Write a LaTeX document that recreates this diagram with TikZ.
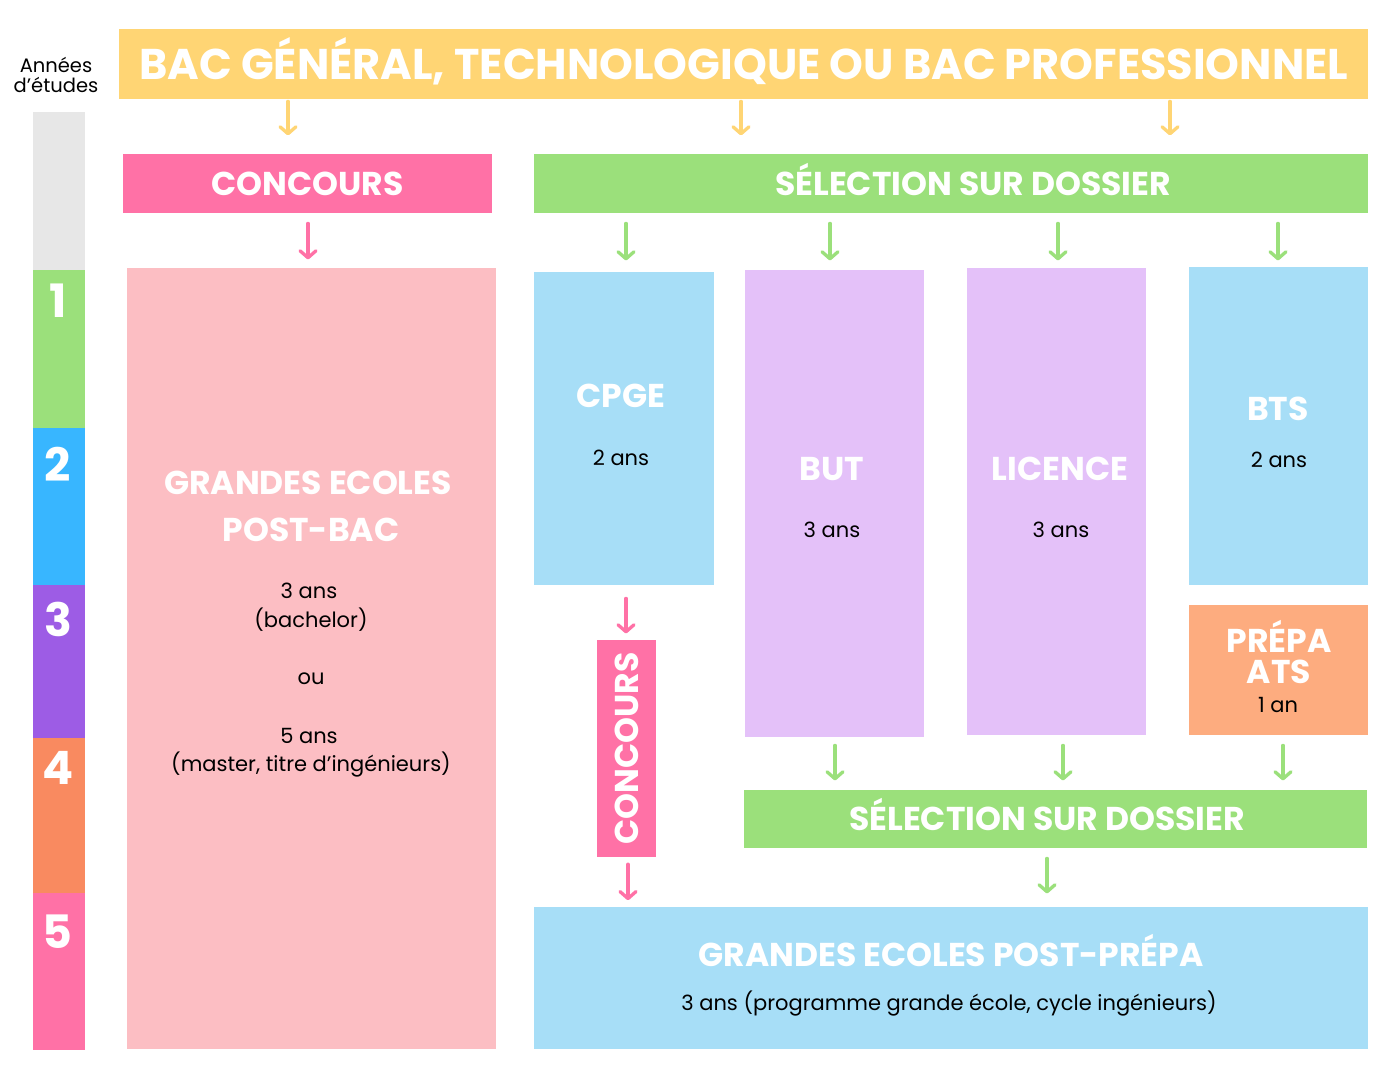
\documentclass[tikz,border=0pt]{standalone}
\usepackage{fontspec}
\setmainfont{Poppins}
\usetikzlibrary{arrows.meta,calc}
\definecolor{cyel}{HTML}{FFD574}
\definecolor{cpink}{HTML}{FF71A6}
\definecolor{cgreen}{HTML}{9BE07B}
\definecolor{clpink}{HTML}{FCBEC3}
\definecolor{clblue}{HTML}{A7DEF7}
\definecolor{clav}{HTML}{E4C1F9}
\definecolor{csalm}{HTML}{FDAC7F}
\definecolor{cgrey}{HTML}{E7E7E7}
\definecolor{cblue}{HTML}{38B6FF}
\definecolor{cpurp}{HTML}{9D5CE5}
\definecolor{corange}{HTML}{F98A60}
\tikzset{
  box/.style={inner sep=0, anchor=north west, draw=none},
  head/.style={font=\bfseries\fontsize{#1}{#1}\selectfont, text=white, inner sep=0, text height=\the\dimexpr #1pt*7/10\relax, text depth=0pt},
  body/.style={font=\fontsize{21}{24}\selectfont, text=black, inner sep=0},
  num/.style={font=\bfseries\fontsize{46}{46}\selectfont, text=white, inner sep=0, text height=32pt, text depth=0pt},
  arr/.style={draw=#1, line width=3.3pt, line cap=round, -{Straight Barb[length=7pt,width=16pt,line width=3.3pt, round]}},
}
\begin{document}
\begin{tikzpicture}[x=1pt,y=-1pt]
\useasboundingbox (0,0) rectangle (1386,1080);
\fill[white] (0,0) rectangle (1386,1080);
% years column
\node[font=\fontsize{19.5}{20}\selectfont, align=center, inner sep=0] (yrs) at (56,75) {Années\\d’études};
\node[box, fill=cgrey, minimum width=52, minimum height=158] (y0) at (33,112) {};
\node[box, fill=cgreen, minimum width=52, minimum height=158] (y1) at (33,270) {};
\node[box, fill=cblue, minimum width=52, minimum height=157] (y2) at (33,428) {};
\node[box, fill=cpurp, minimum width=52, minimum height=153] (y3) at (33,585) {};
\node[box, fill=corange, minimum width=52, minimum height=155] (y4) at (33,738) {};
\node[box, fill=cpink, minimum width=52, minimum height=157] (y5) at (33,893) {};
\node[num] (n1) at (58,301) {1};
\node[num] (n2) at (58,465) {2};
\node[num] (n3) at (58,620) {3};
\node[num] (n4) at (58,768) {4};
\node[num] (n5) at (57,932) {5};
% top
\node[box, fill=cyel, minimum width=1249, minimum height=70] (bac) at (119,29) {};
\node[head=43] (bact) at (bac.center) {BAC GÉNÉRAL, TECHNOLOGIQUE OU BAC PROFESSIONNEL};
\node[box, fill=cpink, minimum width=369, minimum height=59] (conc) at (123,154) {};
\node[head=33] at (conc.center) {CONCOURS};
\node[box, fill=cgreen, minimum width=834, minimum height=59] (sel) at (534,154) {};
\node[head=33] at (973,183.5) {SÉLECTION SUR DOSSIER};
% columns
\node[box, fill=clpink, minimum width=369, minimum height=781] (gepb) at (127,268) {};
\node[head=33] (gepb1) at (308,483) {GRANDES ECOLES};
\node[head=33] (gepb2) at (311,530) {POST-BAC};
\node[body] at (309,591) {3 ans};
\node[body] at (311,620) {(bachelor)};
\node[body] at (311,679) {ou};
\node[body] at (309,736) {5 ans};
\node[body] at (311,765) {(master, titre d’ingénieurs)};

\node[box, fill=clblue, minimum width=180, minimum height=313] (cpge) at (534,272) {};
\node[head=33] at (621,396) {CPGE};
\node[body] at (621,458) {2 ans};

\node[box, fill=clav, minimum width=179, minimum height=467] (but) at (745,270) {};
\node[head=33] at (832,469) {BUT};
\node[body] at (832,530) {3 ans};

\node[box, fill=clav, minimum width=179, minimum height=467] (lic) at (967,268) {};
\node[head=33] at (1060,469) {LICENCE};
\node[body] at (1061,530) {3 ans};

\node[box, fill=clblue, minimum width=179, minimum height=318] (bts) at (1189,267) {};
\node[head=33] at (1278,409) {BTS};
\node[body] at (1279,460) {2 ans};

\node[box, fill=csalm, minimum width=179, minimum height=130] (ats) at (1189,605) {};
\node[font=\bfseries\fontsize{33}{31}\selectfont, text=white, inner sep=0, align=center] (atst) at (1279,652) {PRÉPA\\ATS};
\node[body] at (1278,705) {1 an};

\node[box, fill=cpink, minimum width=217, minimum height=59, rotate=90, anchor=center] (conc2) at (626.5,748.5) {};
\node[head=33, rotate=90] at (conc2.center) {CONCOURS};

\node[box, fill=cgreen, minimum width=623, minimum height=58] (sel2) at (744,790) {};
\node[head=33] at (1047,819) {SÉLECTION SUR DOSSIER};

\node[box, fill=clblue, minimum width=834, minimum height=142] (gepp) at (534,907) {};
\node[head=33] at (951,955) {GRANDES ECOLES POST-PRÉPA};
\node[body] at (949,1004) {3 ans (programme grande école, cycle ingénieurs)};

% arrows
\draw[arr=cyel] (bac.south -| 288,0) ++(0,2) -- ++(0,34);
\draw[arr=cyel] (bac.south -| 741,0) ++(0,2) -- ++(0,34);
\draw[arr=cyel] (bac.south -| 1170,0) ++(0,2) -- ++(0,34);
\draw[arr=cpink] (conc.south -| 308,0) ++(0,10) -- ++(0,36);
\draw[arr=cgreen] (sel.south -| 626,0) ++(0,10) -- ++(0,37);
\draw[arr=cgreen] (sel.south -| 830,0) ++(0,10) -- ++(0,37);
\draw[arr=cgreen] (sel.south -| 1058,0) ++(0,10) -- ++(0,37);
\draw[arr=cgreen] (sel.south -| 1278,0) ++(0,10) -- ++(0,37);
\draw[arr=cpink] (cpge.south -| 626,0) ++(0,13) -- ++(0,35);
\draw[arr=cpink] (conc2.west -| 628,0) ++(0,7) -- ++(0,36);
\draw[arr=cgreen] (but.south -| 835,0) ++(0,8) -- ++(0,35);
\draw[arr=cgreen] (lic.south -| 1063,0) ++(0,10) -- ++(0,35);
\draw[arr=cgreen] (ats.south -| 1283,0) ++(0,10) -- ++(0,35);
\draw[arr=cgreen] (sel2.south -| 1047,0) ++(0,10) -- ++(0,35);
\end{tikzpicture}
\end{document}
